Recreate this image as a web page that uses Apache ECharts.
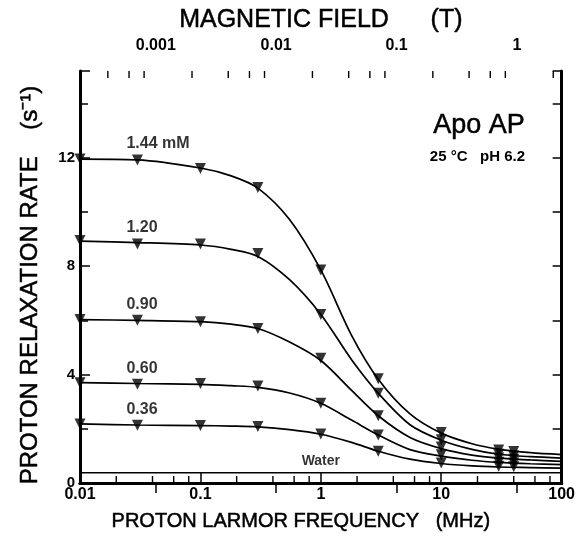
<!DOCTYPE html>
<html><head><meta charset="utf-8">
<script src="https://cdn.jsdelivr.net/npm/echarts@6/dist/echarts.min.js"></script>
<style>html,body{margin:0;padding:0;background:#fff}#c{width:578px;height:540px}</style>
</head><body><div id="c"></div>
<script>
// ---- data ----
const markerFreq = [0.01, 0.03, 0.1, 0.3, 1, 3, 10, 30, 40];
const m144 = [11.95, 11.92, 11.6, 10.9, 7.86, 3.85, 1.86, 1.22, 1.16];
const m120 = [8.95, 8.82, 8.82, 8.47, 6.22, 3.31, 1.6, 1.06, 1.0];
const m090 = [6.03, 6.0, 5.95, 5.7, 4.6, 2.48, 1.33, 0.92, 0.88];
const m060 = [3.7, 3.64, 3.67, 3.58, 2.94, 1.77, 1.04, 0.77, 0.74];
const m036 = [2.18, 2.13, 2.12, 2.08, 1.81, 1.17, 0.74, 0.62, 0.6];

const curveFreq = [0.01, 0.03, 0.1, 0.18, 0.3, 0.55, 1, 1.8, 3, 5.5, 10, 18, 30, 55, 100];
const c144 = [11.95, 11.92, 11.62, 11.33, 10.88, 9.72, 7.86, 5.45, 3.83, 2.55, 1.84, 1.45, 1.25, 1.12, 1.05];
const c120 = [8.92, 8.87, 8.78, 8.62, 8.36, 7.5, 6.22, 4.55, 3.31, 2.15, 1.58, 1.24, 1.06, 0.97, 0.92];
const c090 = [6.03, 6.0, 5.95, 5.86, 5.7, 5.2, 4.52, 3.42, 2.48, 1.68, 1.27, 1.03, 0.92, 0.85, 0.8];
const c060 = [3.7, 3.67, 3.64, 3.59, 3.53, 3.32, 2.94, 2.32, 1.77, 1.23, 0.99, 0.84, 0.76, 0.71, 0.68];
const c036 = [2.18, 2.14, 2.12, 2.1, 2.07, 1.97, 1.8, 1.5, 1.17, 0.88, 0.72, 0.63, 0.59, 0.57, 0.55];

const waterFreq = [0.01, 100];
const waterRate = [0.38, 0.38];

const concLabels = ['1.44 mM', '1.20', '0.90', '0.60', '0.36'];
const labelFreq = 0.03;

const MHZ_PER_T = 42.58;
const freqMin = 0.01, freqMax = 100;
const rateMin = 0, rateMax = 15.2;
const bottomMinorTicks = [0.02,0.04,0.06,0.08,0.2,0.4,0.6,0.8,2,4,6,8,20,40,60,80];
const topMinorTicks = [0.0004,0.0006,0.0008,0.002,0.004,0.006,0.008,0.02,0.04,0.06,0.08,0.2,0.4,0.6,0.8,2];

// ---- build ----
const FONT = 'Liberation Sans, Arial, sans-serif';
const markerSets = [m144, m120, m090, m060, m036];
const curveSets = [c144, c120, c090, c060, c036];
const zip = (xs, ys) => xs.map((x, i) => [x, ys[i]]);

const series = [];
curveSets.forEach((c) => {
  series.push({ type: 'line', data: zip(curveFreq, c), smooth: 0.3, showSymbol: false,
    lineStyle: { color: '#000', width: 1.7 }, silent: true, z: 3 });
});
markerSets.forEach((m) => {
  series.push({ type: 'scatter', data: zip(markerFreq, m), symbol: 'triangle', symbolRotate: 180,
    symbolSize: 11, itemStyle: { color: '#000' }, z: 4 });
});
series.push({ type: 'line', data: zip(waterFreq, waterRate), showSymbol: false,
  lineStyle: { color: '#000', width: 1.5 }, z: 3 });
// concentration labels
series.push({
  type: 'scatter', symbolSize: 0, z: 5,
  data: concLabels.map((t, i) => ({ name: t, value: [labelFreq, markerSets[i][1]] })),
  label: { show: true, formatter: '{b}', position: 'top', distance: 8, align: 'left', offset: [-11, 0],
    color: '#000', fontFamily: FONT, fontWeight: 'bold', fontSize: 16 }
});
series.push({
  type: 'scatter', symbolSize: 0, z: 5,
  data: [{ name: 'Water', value: [1, waterRate[0]] }],
  label: { show: true, formatter: '{b}', position: 'top', distance: 5,
    color: '#000', fontFamily: FONT, fontWeight: 'bold', fontSize: 14 }
});
function tickRenderer(side, len) {
  return function (params, api) {
    const x = api.coord([api.value(0), 1])[0];
    const cs = params.coordSys;
    const y0 = side === 'bottom' ? cs.y + cs.height : cs.y;
    const y1 = side === 'bottom' ? y0 - len : y0 + len;
    return { type: 'line', shape: { x1: x, y1: y0, x2: x, y2: y1 }, style: { stroke: '#000', lineWidth: 1.4 } };
  };
}
series.push({ type: 'custom', xAxisIndex: 0, yAxisIndex: 0, data: bottomMinorTicks.map(v => [v, 1]),
  renderItem: tickRenderer('bottom', 7), silent: true, z: 6 });
series.push({ type: 'custom', xAxisIndex: 1, yAxisIndex: 0, data: topMinorTicks.map(v => [v, 1]),
  renderItem: tickRenderer('top', 7), silent: true, z: 6 });

const axisLbl = { color: '#000', fontFamily: FONT, fontWeight: 'bold', fontSize: 16 };
const nameSty = { color: '#000', fontFamily: FONT, fontSize: 20, textBorderColor: '#000', textBorderWidth: 0.5 };
const thick = { show: true, lineStyle: { color: '#000', width: 3 } };
const tickSty = { inside: true, length: 10, lineStyle: { color: '#000', width: 1.5 } };

const option = {
  animation: false,
  backgroundColor: '#fff',
  grid: { left: 80, right: 16, top: 71, bottom: 57, containLabel: false },
  xAxis: [
    { type: 'log', logBase: 10, min: freqMin, max: freqMax, position: 'bottom',
      name: 'PROTON LARMOR FREQUENCY   (MHz)', nameLocation: 'middle', nameGap: 28,
      nameTextStyle: Object.assign({ padding: [0, 40, 0, 0] }, nameSty),
      axisLine: thick, axisTick: tickSty,
      axisLabel: Object.assign({ margin: 4 }, axisLbl), splitLine: { show: false }, minorTick: { show: false } },
    { type: 'log', logBase: 10, min: freqMin / MHZ_PER_T, max: freqMax / MHZ_PER_T, position: 'top',
      name: 'MAGNETIC FIELD      (T)', nameLocation: 'middle', nameGap: 37,
      nameTextStyle: Object.assign({}, nameSty, { fontSize: 25 }),
      axisLine: thick, axisTick: tickSty,
      axisLabel: Object.assign({ margin: 17, showMinLabel: false, showMaxLabel: false,
        formatter: v => String(+(+v).toPrecision(3)) }, axisLbl),
      splitLine: { show: false } }
  ],
  yAxis: [
    { type: 'value', min: rateMin, max: rateMax, interval: 4, position: 'left',
      name: 'PROTON RELAXATION RATE    (s⁻¹)', nameLocation: 'middle', nameGap: 38,
      nameTextStyle: Object.assign({ padding: [0, 16, 0, 0] }, nameSty, { fontSize: 24 }),
      axisLine: thick, axisTick: tickSty,
      minorTick: { show: true, splitNumber: 2, length: 8, lineStyle: { color: '#000', width: 1.5 } },
      axisLabel: Object.assign({ margin: 5, showMaxLabel: false }, axisLbl, { fontSize: 15 }), splitLine: { show: false } },
    { type: 'value', min: rateMin, max: rateMax, interval: 2, position: 'right',
      axisLine: thick, axisTick: { inside: true, length: 9, lineStyle: { color: '#000', width: 1.5 } },
      axisLabel: { show: false }, splitLine: { show: false } }
  ],
  graphic: [
    { type: 'text', right: 53, top: 112, style: { text: 'Apo AP', fill: '#000', font: '27px ' + FONT,
      textAlign: 'right', stroke: '#000', lineWidth: 0.5 } },
    { type: 'text', right: 53, top: 149, style: { text: '25 °C   pH 6.2', fill: '#000', font: 'bold 15px ' + FONT, textAlign: 'right' } }
  ],
  series
};
const chart = echarts.init(document.getElementById('c'), null, { renderer: 'canvas' });
chart.setOption(option);
</script></body></html>
